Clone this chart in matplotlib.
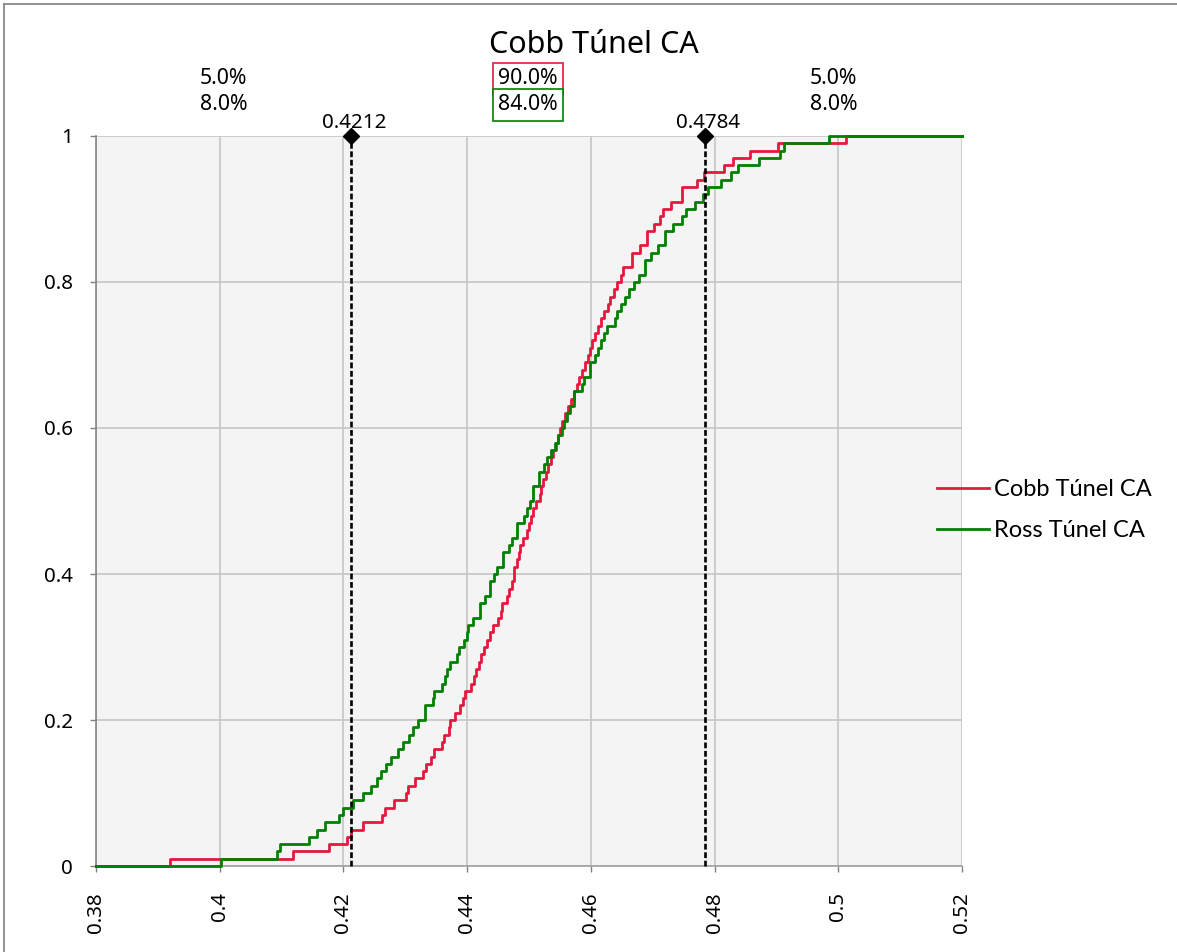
import matplotlib
matplotlib.use("Agg")
import matplotlib.pyplot as plt
from matplotlib.transforms import blended_transform_factory
from matplotlib.lines import Line2D

# ---------------- data ----------------
title = "Cobb Túnel CA"
series_names = ["Cobb Túnel CA", "Ross Túnel CA"]
series_colors = ["#E5193F", "#008000"]

cobb_values = [
    0.3920, 0.4119, 0.4176, 0.4205, 0.4212, 0.4232, 0.4263, 0.4267, 0.4281, 0.4301,
    0.4305, 0.4316, 0.4329, 0.4334, 0.4342, 0.4346, 0.4359, 0.4363, 0.4370, 0.4373,
    0.4380, 0.4388, 0.4393, 0.4397, 0.4407, 0.4411, 0.4415, 0.4419, 0.4423, 0.4427,
    0.4432, 0.4437, 0.4442, 0.4450, 0.4454, 0.4457, 0.4464, 0.4468, 0.4472, 0.4476,
    0.4476, 0.4480, 0.4484, 0.4486, 0.4491, 0.4496, 0.4500, 0.4504, 0.4507, 0.4511,
    0.4517, 0.4520, 0.4523, 0.4527, 0.4531, 0.4535, 0.4538, 0.4544, 0.4547, 0.4550,
    0.4554, 0.4559, 0.4563, 0.4568, 0.4573, 0.4577, 0.4581, 0.4585, 0.4590, 0.4595,
    0.4598, 0.4602, 0.4607, 0.4611, 0.4616, 0.4622, 0.4627, 0.4631, 0.4638, 0.4642,
    0.4648, 0.4652, 0.4667, 0.4667, 0.4679, 0.4690, 0.4690, 0.4702, 0.4712, 0.4717,
    0.4730, 0.4747, 0.4747, 0.4771, 0.4783, 0.4816, 0.4830, 0.4857, 0.4903, 0.5013,
]

ross_values = [
    0.4002, 0.4092, 0.4098, 0.4145, 0.4158, 0.4170, 0.4193, 0.4200, 0.4215, 0.4232,
    0.4244, 0.4255, 0.4261, 0.4269, 0.4277, 0.4289, 0.4296, 0.4306, 0.4312, 0.4320,
    0.4332, 0.4332, 0.4345, 0.4347, 0.4359, 0.4365, 0.4368, 0.4373, 0.4383, 0.4387,
    0.4395, 0.4399, 0.4402, 0.4410, 0.4420, 0.4420, 0.4429, 0.4437, 0.4437, 0.4443,
    0.4449, 0.4458, 0.4458, 0.4468, 0.4472, 0.4481, 0.4481, 0.4492, 0.4496, 0.4502,
    0.4507, 0.4507, 0.4516, 0.4516, 0.4524, 0.4529, 0.4536, 0.4542, 0.4547, 0.4553,
    0.4556, 0.4562, 0.4566, 0.4573, 0.4573, 0.4586, 0.4589, 0.4599, 0.4599, 0.4607,
    0.4612, 0.4616, 0.4622, 0.4626, 0.4639, 0.4643, 0.4649, 0.4656, 0.4661, 0.4669,
    0.4678, 0.4687, 0.4687, 0.4698, 0.4709, 0.4720, 0.4720, 0.4733, 0.4747, 0.4754,
    0.4768, 0.4782, 0.4790, 0.4811, 0.4827, 0.4838, 0.4872, 0.4906, 0.4912, 0.4985,
]

x_min, x_max = 0.38, 0.52
x_ticks = [0.38, 0.40, 0.42, 0.44, 0.46, 0.48, 0.50, 0.52]
y_ticks = [0, 0.2, 0.4, 0.6, 0.8, 1.0]

marker_x = [0.4212, 0.4784]
cobb_pct = [5.0, 90.0, 5.0]
ross_pct = [8.0, 84.0, 8.0]

# ---------------- figure ----------------
W, H = 1177, 952
fig = plt.figure(figsize=(W / 100, H / 100), dpi=100)
fig.patch.set_facecolor("white")

ax = fig.add_axes([96 / W, 1 - 866 / H, (962 - 96) / W, (866 - 136) / H])
ax.set_facecolor("#F4F4F4")
ax.set_xlim(x_min, x_max)
ax.set_ylim(0, 1)

small_font = "Noto Sans"
fs = 14.8

ax.set_xticks(x_ticks)
ax.set_xticklabels([f"{t:g}" for t in x_ticks], rotation=90, fontfamily=small_font, fontsize=fs)
ax.set_yticks(y_ticks)
ax.set_yticklabels([f"{t:g}" for t in y_ticks], fontfamily=small_font, fontsize=fs)
ax.tick_params(axis="x", direction="out", length=4, width=1, color="#808080", pad=15)
ax.tick_params(axis="y", direction="out", length=4.5, width=1, color="#808080", pad=12)
ax.grid(True, color="#C6C6C6", linewidth=1.2)
ax.set_axisbelow(True)
for s in ["top", "right"]:
    ax.spines[s].set_visible(False)
ax.spines["left"].set_color("#868686")
ax.spines["bottom"].set_color("#A0A0A0")
ax.spines["left"].set_linewidth(1.2)
ax.spines["bottom"].set_linewidth(1.2)


def ecdf(values):
    v = sorted(values)
    n = len(v)
    xs = [x_min] + v + [x_max]
    ys = [0.0] + [(i + 1) / n for i in range(n)] + [1.0]
    return xs, ys


for vals, name, col in zip([cobb_values, ross_values], series_names, series_colors):
    xs, ys = ecdf(vals)
    ax.step(xs, ys, where="post", color=col, linewidth=2.0, label=name,
            clip_on=False, zorder=3)

# percentile markers
for mx in marker_x:
    ax.plot([mx, mx], [0, 1], color="black", linewidth=1.9, dashes=(2.2, 1.0),
            zorder=4, clip_on=False)
    ax.plot([mx], [1], marker="D", color="black", markersize=8, zorder=5, clip_on=False)

trans = blended_transform_factory(ax.transData, fig.transFigure)
for mx in marker_x:
    ax.text(mx + 0.0005, 1 - 133 / H, f"{mx:.4f}", transform=trans, ha="center",
            va="bottom", fontsize=fs, fontfamily=small_font, color="black")

bounds = [x_min] + marker_x + [x_max]
row1_y = 1 - 79 / H
row2_y = 1 - 105 / H
pfs = 15.3
for i in range(3):
    cx = (bounds[i] + bounds[i + 1]) / 2
    boxed = (i == 1)
    kw1 = dict(transform=trans, ha="center", va="center", fontsize=pfs,
               fontfamily=small_font, color="black")
    if boxed:
        ax.text(cx, row1_y, f"{cobb_pct[i]:.1f}%",
                bbox=dict(boxstyle="square,pad=0.25", facecolor="white",
                          edgecolor=series_colors[0], linewidth=1.2), **kw1)
        ax.text(cx, row2_y, f"{ross_pct[i]:.1f}%",
                bbox=dict(boxstyle="square,pad=0.25", facecolor="white",
                          edgecolor=series_colors[1], linewidth=1.2), **kw1)
    else:
        ax.text(cx, row1_y, f"{cobb_pct[i]:.1f}%", **kw1)
        ax.text(cx, row2_y, f"{ross_pct[i]:.1f}%", **kw1)

# title
fig.text(594 / W, 1 - 45 / H, title, ha="center", va="center", fontsize=22,
         fontfamily=small_font, color="black")

# legend
fig.legend(loc="center left", bbox_to_anchor=(937 / W, 1 - 510 / H), frameon=False,
           prop={"family": "Lato", "size": 17}, handlelength=2.2, handletextpad=0.2,
           labelspacing=0.85, borderpad=0, borderaxespad=0)

# outer frame (left and top edges)
fig.add_artist(Line2D([4 / W, 4 / W], [0, 1 - 4 / H], transform=fig.transFigure,
                      color="#808080", linewidth=1.2))
fig.add_artist(Line2D([4 / W, 1], [1 - 4 / H, 1 - 4 / H], transform=fig.transFigure,
                      color="#808080", linewidth=1.2))

fig.savefig("out.png", dpi=100)
